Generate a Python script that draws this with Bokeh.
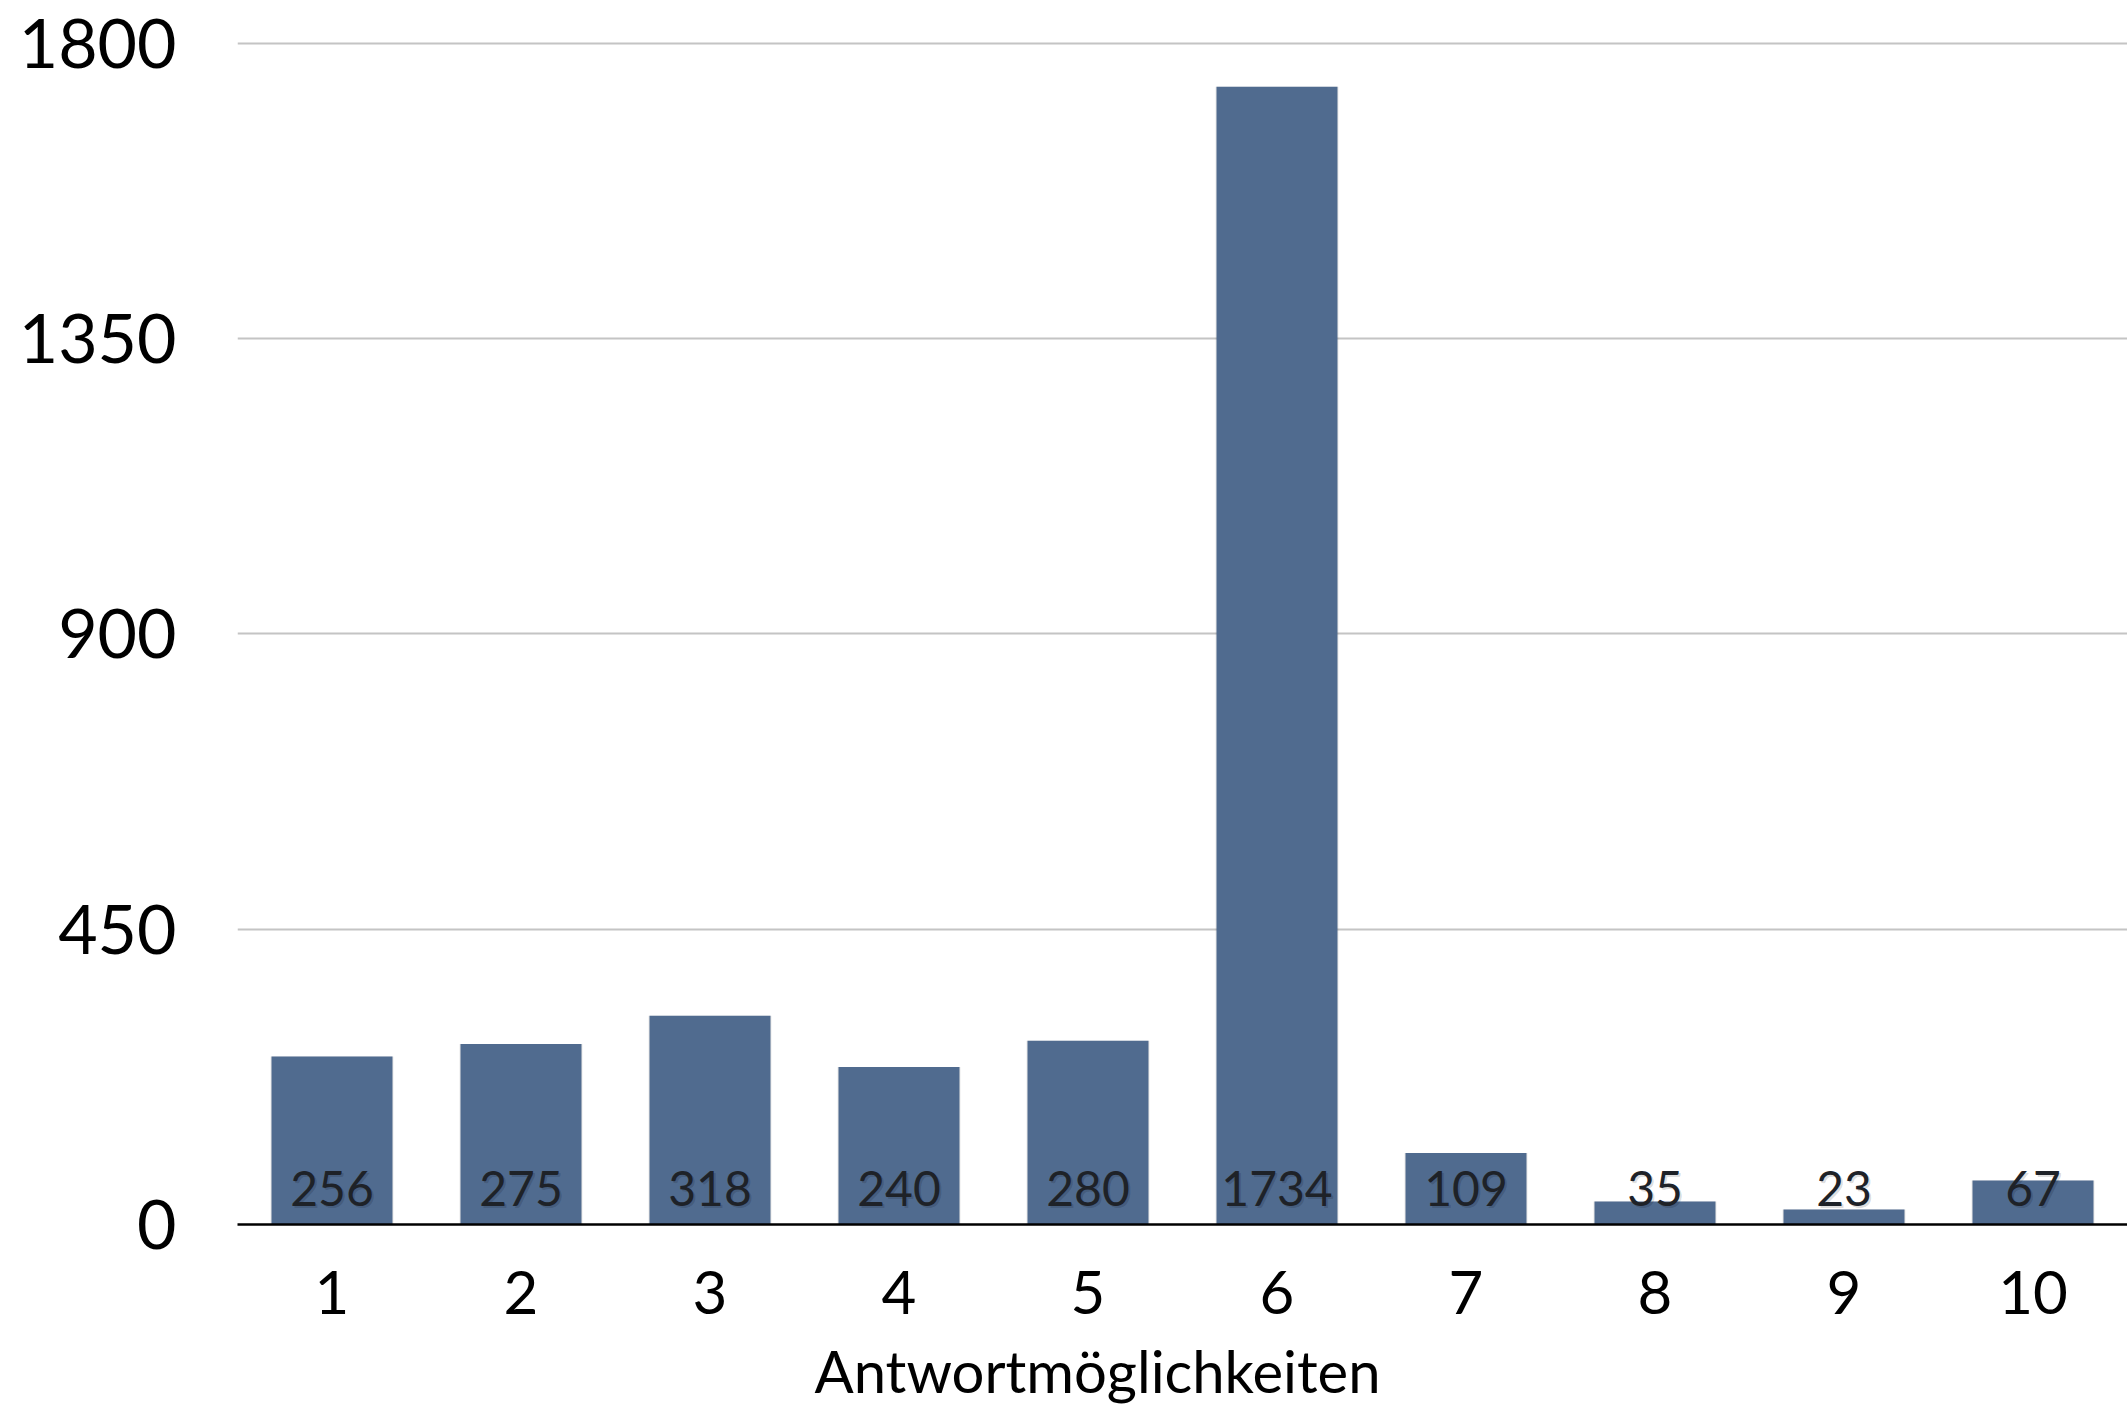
from bokeh.plotting import figure
from bokeh.models import FactorRange, Range1d, FixedTicker, ColumnDataSource, Title
from bokeh.core.properties import value
from bokeh.embed import file_html
from bokeh.resources import INLINE

categories = ["1", "2", "3", "4", "5", "6", "7", "8", "9", "10"]
counts = [256, 275, 318, 240, 280, 1734, 109, 35, 23, 67]
y_ticks = [0, 450, 900, 1350, 1800]
x_title = "Antwortmöglichkeiten"

FONT = "Lato"
BAR = "#506b8f"

src = ColumnDataSource(dict(cat=categories, val=counts,
                            lab=[str(v) for v in counts],
                            zero=[0] * len(counts)))

p = figure(x_range=FactorRange(*categories, range_padding=0),
           y_range=Range1d(0, 1815),
           width=2127, height=1425,
           output_backend="svg", toolbar_location=None,
           min_border_left=237, min_border_right=0,
           min_border_top=33, min_border_bottom=201)
p.outline_line_color = None
p.background_fill_color = "white"

# faint shadow
p.vbar(x="cat", top="val", width=0.65, source=src,
       fill_color="#000000", fill_alpha=0.10, line_color=None)
p.vbar(x="cat", top="val", width=0.64, source=src,
       fill_color=BAR, line_color=None)

p.text(x="cat", y="zero", text="lab", source=src,
       text_font=value(FONT), text_font_size="48px",
       text_color="#000000", text_alpha=0.15,
       text_align="center", text_baseline="alphabetic",
       x_offset=2, y_offset=-34)
p.text(x="cat", y="zero", text="lab", source=src,
       text_font=value(FONT), text_font_size="48px",
       text_color="#1e2228",
       text_align="center", text_baseline="alphabetic",
       y_offset=-36)

# axes
p.yaxis.ticker = FixedTicker(ticks=y_ticks)
p.yaxis.axis_line_color = None
p.yaxis.major_tick_line_color = None
p.yaxis.minor_tick_line_color = None
p.yaxis.major_label_text_font = FONT
p.yaxis.major_label_text_font_size = "68px"
p.yaxis.major_label_text_color = "#000000"
p.yaxis.major_label_standoff = 55

p.xaxis.axis_line_color = "#000000"
p.xaxis.axis_line_width = 2.5
p.xaxis.major_tick_line_color = None
p.xaxis.minor_tick_line_color = None
p.xaxis.major_label_text_font = FONT
p.xaxis.major_label_text_font_size = "60px"
p.xaxis.major_label_text_color = "#000000"
p.xaxis.major_label_standoff = 40

p.add_layout(Title(text=x_title, align="left", offset=577,
                   text_font=FONT, text_font_size="58px",
                   text_font_style="normal", text_color="#000000",
                   standoff=34), "below")

p.xgrid.grid_line_color = None
p.ygrid.grid_line_color = "#c4c4c4"
p.ygrid.grid_line_width = 2
p.ygrid.ticker = FixedTicker(ticks=y_ticks[1:])

open("out.html", "w").write(file_html(p, INLINE))
